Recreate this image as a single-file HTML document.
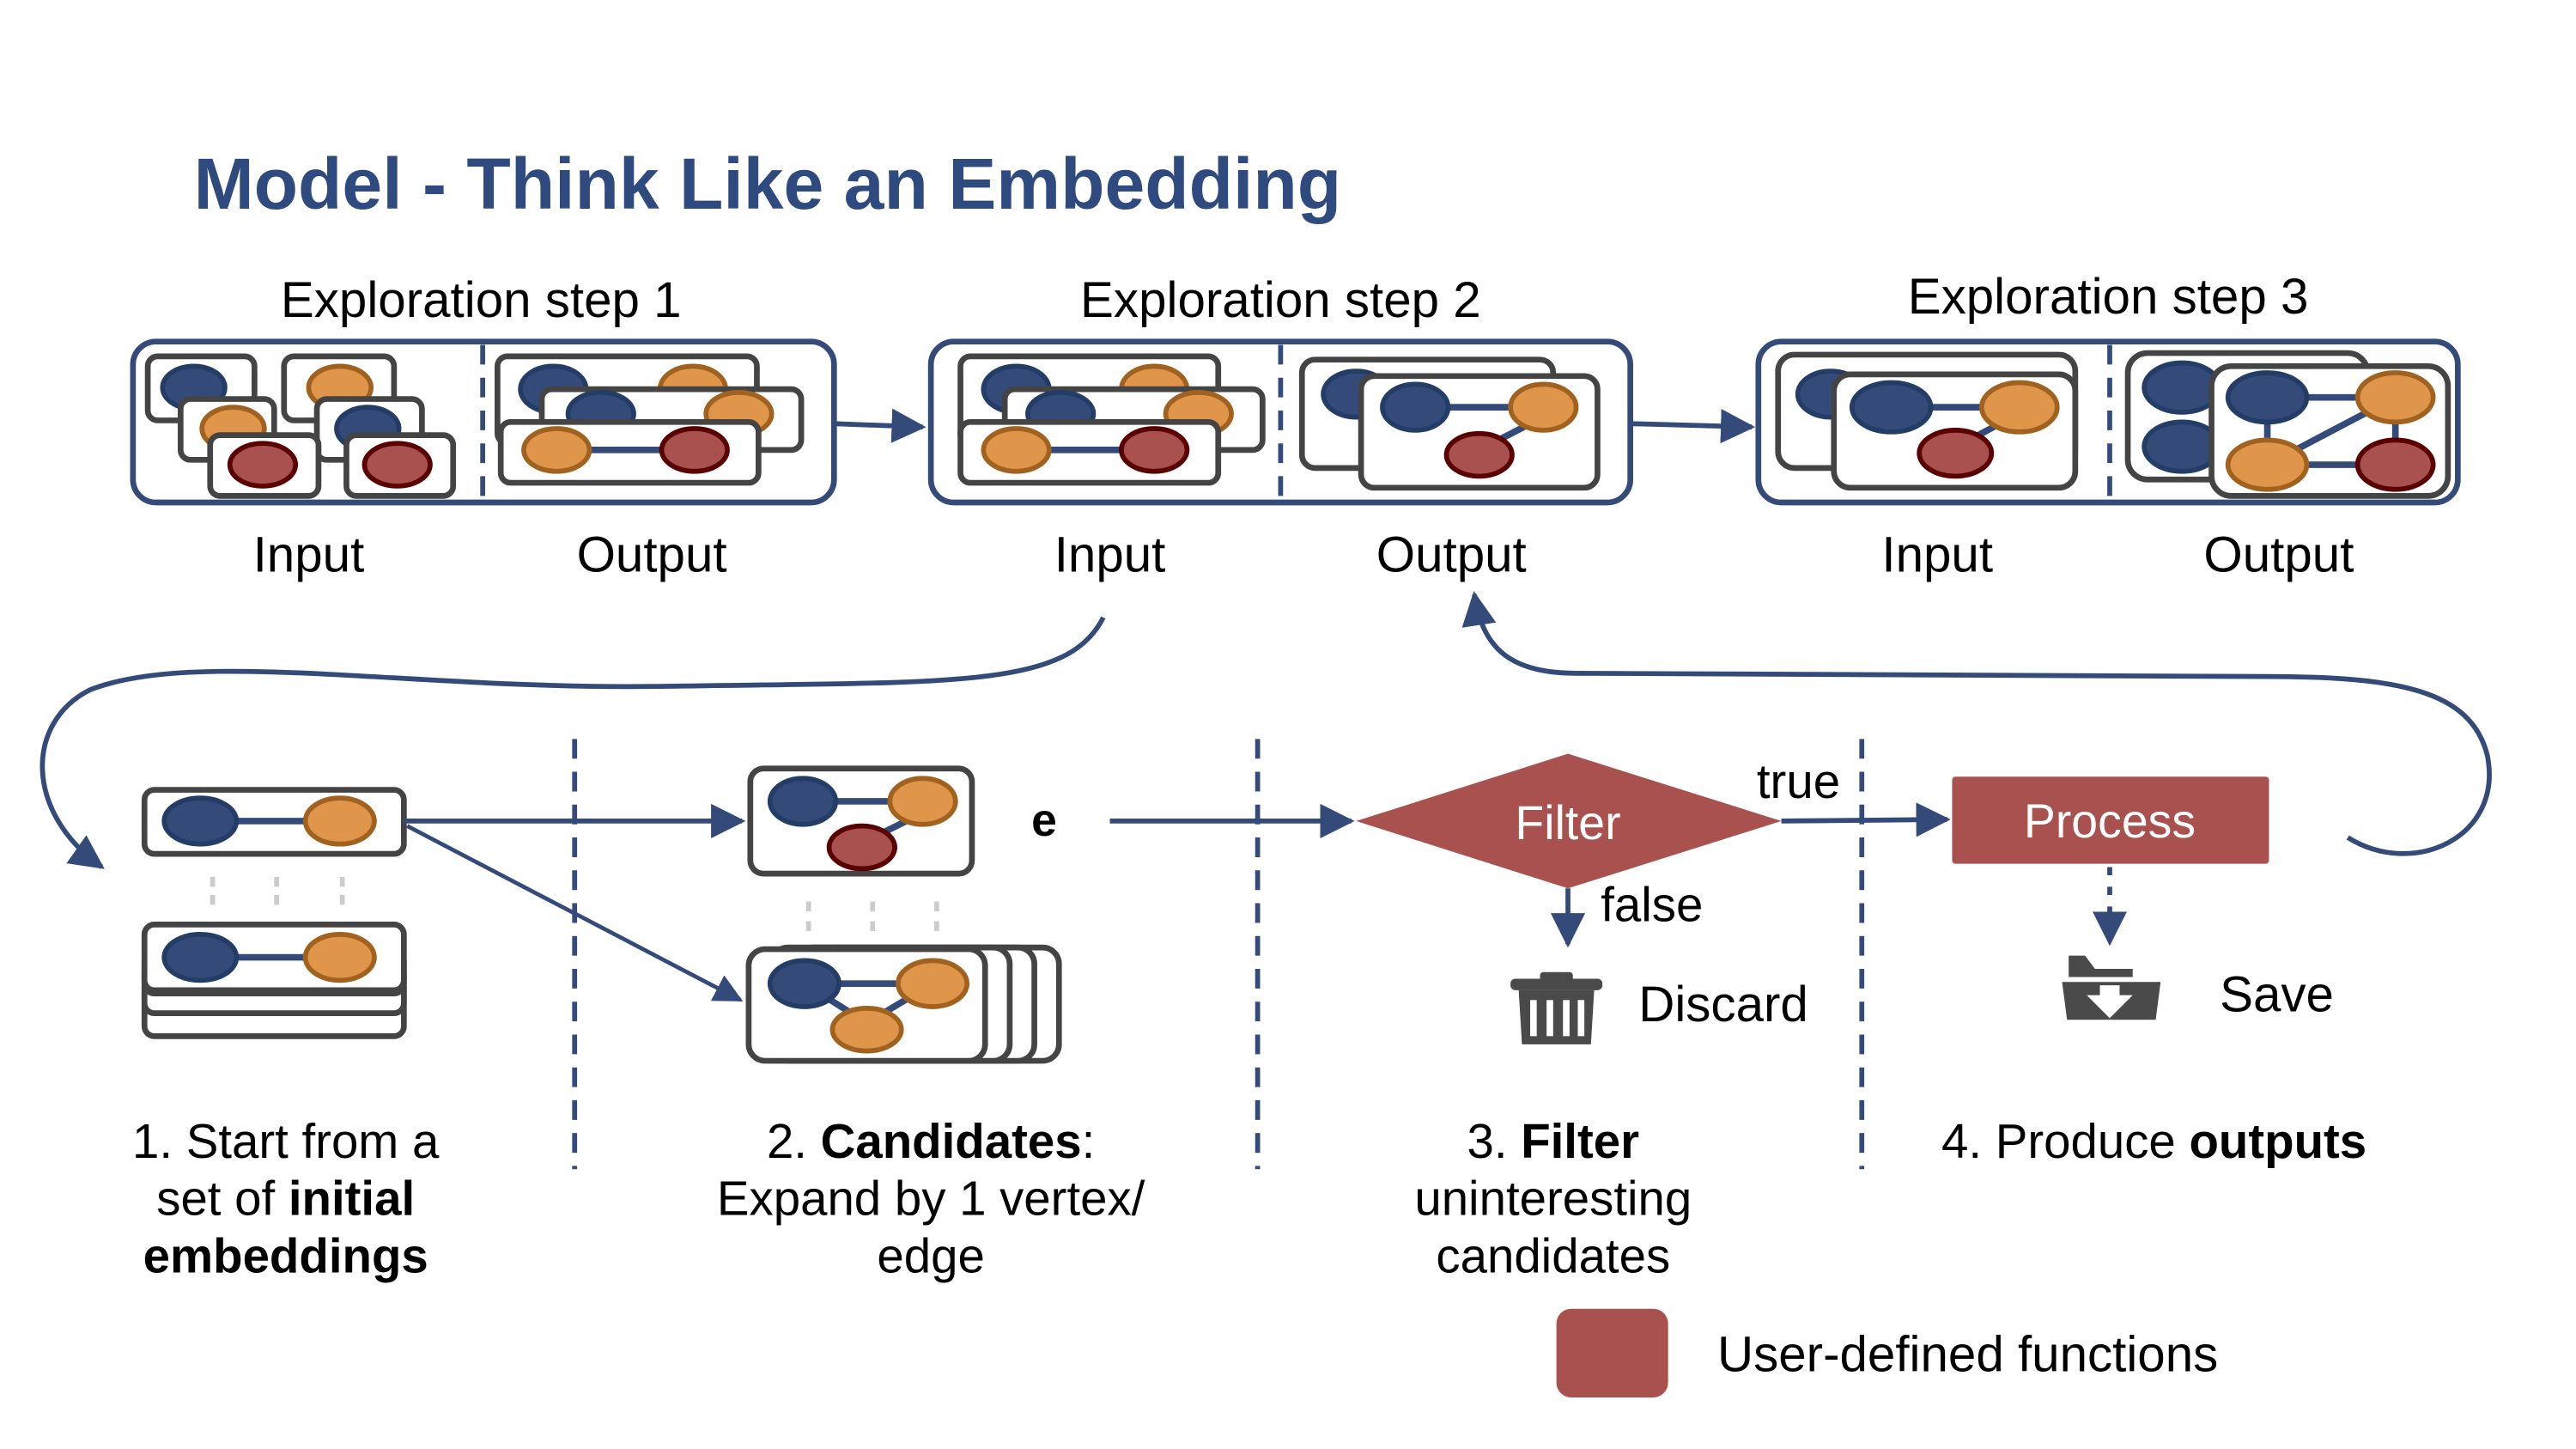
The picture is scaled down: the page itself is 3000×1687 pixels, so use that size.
<!DOCTYPE html>
<html><head><meta charset="utf-8"><style>
html,body{margin:0;padding:0;background:#fff;}
svg{display:block;}
text{font-family:"Liberation Sans",Arial,sans-serif;}
</style></head><body>
<svg width="3000" height="1687" viewBox="0 0 1569 882.4" preserveAspectRatio="none" xmlns="http://www.w3.org/2000/svg">
<defs>
<marker id="ah2" viewBox="0 0 10 10" refX="9" refY="5" markerWidth="7" markerHeight="7" orient="auto" markerUnits="strokeWidth">
<path d="M0,0 L10,5 L0,10 z" fill="#344b7a"/></marker>
</defs>
<style>
.b{fill:#344b7a;stroke:#243d66;stroke-width:3}
.o{fill:#df954a;stroke:#a0621e;stroke-width:3}
.r{fill:#a9514f;stroke:#5a0000;stroke-width:3}
.bx{fill:#fff;stroke:#444;stroke-width:3.5}
.e{stroke:#344b7a;stroke-width:4}
.ob{fill:#fff;stroke:#344b7a;stroke-width:3.5}
.dv{stroke:#344b7a;stroke-width:3;stroke-dasharray:12,8}
.lbl{font-size:30.5px;fill:#000}
</style>

<text x="118" y="127" font-size="44" font-weight="bold" fill="#2e4a7e">Model - Think Like an Embedding</text>

<text x="293" y="193" class="lbl" text-anchor="middle">Exploration step 1</text>
<text x="780" y="193" class="lbl" text-anchor="middle">Exploration step 2</text>
<text x="1284" y="191" class="lbl" text-anchor="middle">Exploration step 3</text>

<!-- Step 1 -->
<rect x="81" y="208" width="427" height="98" rx="14" class="ob"/>
<line x1="294" y1="210" x2="294" y2="304" class="dv"/>
<rect x="90" y="217" width="65" height="39" rx="6" class="bx"/><ellipse cx="118" cy="236" rx="19" ry="13" class="b"/>
<rect x="173" y="217" width="67" height="39" rx="6" class="bx"/><ellipse cx="207" cy="236" rx="19" ry="13" class="o"/>
<rect x="110" y="243" width="57" height="37" rx="6" class="bx"/><ellipse cx="142" cy="261" rx="19" ry="13" class="o"/>
<rect x="193" y="243" width="64" height="37" rx="6" class="bx"/><ellipse cx="224" cy="261" rx="19" ry="13" class="b"/>
<rect x="128" y="265" width="66" height="37" rx="6" class="bx"/><ellipse cx="160" cy="283" rx="20" ry="13" class="r"/>
<rect x="211" y="265" width="65" height="37" rx="6" class="bx"/><ellipse cx="242" cy="283" rx="20" ry="13" class="r"/>

<rect x="303" y="217" width="158" height="53" rx="6" class="bx"/>
<ellipse cx="337" cy="237" rx="20" ry="14" class="b"/><ellipse cx="422" cy="237" rx="20" ry="14" class="o"/>
<rect x="330" y="237" width="158" height="37" rx="6" class="bx"/>
<ellipse cx="366" cy="252" rx="20" ry="13" class="b"/><ellipse cx="450" cy="252" rx="20" ry="13" class="o"/>
<rect x="305" y="257" width="157" height="37" rx="6" class="bx"/>
<line x1="339" y1="274" x2="423" y2="274" class="e"/>
<ellipse cx="339" cy="274" rx="20" ry="13" class="o"/><ellipse cx="423" cy="274" rx="20" ry="13" class="r"/>

<line x1="508" y1="258" x2="562" y2="260" stroke="#344b7a" stroke-width="3" marker-end="url(#ah2)"/>

<!-- Step 2 -->
<rect x="567" y="208" width="426" height="98" rx="14" class="ob"/>
<line x1="780" y1="210" x2="780" y2="304" class="dv"/>
<rect x="585" y="217" width="157" height="53" rx="6" class="bx"/>
<ellipse cx="619" cy="237" rx="20" ry="14" class="b"/><ellipse cx="703" cy="237" rx="20" ry="14" class="o"/>
<rect x="612" y="237" width="157" height="37" rx="6" class="bx"/>
<ellipse cx="646" cy="252" rx="20" ry="13" class="b"/><ellipse cx="730" cy="252" rx="20" ry="13" class="o"/>
<rect x="585" y="257" width="157" height="37" rx="6" class="bx"/>
<line x1="619" y1="274" x2="703" y2="274" class="e"/>
<ellipse cx="619" cy="274" rx="20" ry="13" class="o"/><ellipse cx="703" cy="274" rx="20" ry="13" class="r"/>
<rect x="793" y="219" width="153" height="66" rx="8" class="bx"/>
<ellipse cx="826" cy="240" rx="20" ry="14" class="b"/>
<rect x="829" y="229" width="144" height="68" rx="8" class="bx"/>
<line x1="862" y1="248" x2="940" y2="248" class="e"/><line x1="932" y1="258" x2="905" y2="272" class="e"/>
<ellipse cx="862" cy="248" rx="20" ry="14" class="b"/><ellipse cx="940" cy="248" rx="20" ry="14" class="o"/>
<ellipse cx="901" cy="277" rx="20" ry="13" class="r"/>

<line x1="993" y1="258" x2="1067" y2="260" stroke="#344b7a" stroke-width="3" marker-end="url(#ah2)"/>

<!-- Step 3 -->
<rect x="1071" y="208" width="426" height="98" rx="14" class="ob"/>
<line x1="1285" y1="210" x2="1285" y2="304" class="dv"/>
<rect x="1083" y="216" width="181" height="69" rx="10" class="bx"/>
<ellipse cx="1115" cy="240" rx="20" ry="14" class="b"/>
<rect x="1117" y="228" width="147" height="69" rx="10" class="bx"/>
<line x1="1152" y1="248" x2="1230" y2="248" class="e"/><line x1="1218" y1="258" x2="1192" y2="272" class="e"/>
<ellipse cx="1152" cy="248" rx="24" ry="15" class="b"/><ellipse cx="1230" cy="248" rx="23" ry="15" class="o"/>
<ellipse cx="1191" cy="276" rx="22" ry="14" class="r"/>
<rect x="1296" y="215" width="146" height="77" rx="12" class="bx"/>
<ellipse cx="1329" cy="236" rx="23" ry="15" class="b"/><ellipse cx="1329" cy="272" rx="23" ry="15" class="b"/>
<rect x="1347" y="223" width="144" height="79" rx="12" class="bx"/>
<line x1="1381" y1="242" x2="1459" y2="242" class="e"/><line x1="1381" y1="242" x2="1381" y2="283" class="e"/>
<line x1="1459" y1="242" x2="1381" y2="283" class="e"/><line x1="1459" y1="242" x2="1459" y2="283" class="e"/>
<line x1="1381" y1="283" x2="1459" y2="283" class="e"/>
<ellipse cx="1381" cy="242" rx="24" ry="15" class="b"/><ellipse cx="1459" cy="242" rx="23" ry="15" class="o"/>
<ellipse cx="1381" cy="283" rx="24" ry="15" class="o"/><ellipse cx="1459" cy="283" rx="23" ry="15" class="r"/>

<text x="188" y="348" class="lbl" text-anchor="middle">Input</text>
<text x="397" y="348" class="lbl" text-anchor="middle">Output</text>
<text x="676" y="348" class="lbl" text-anchor="middle">Input</text>
<text x="884" y="348" class="lbl" text-anchor="middle">Output</text>
<text x="1180" y="348" class="lbl" text-anchor="middle">Input</text>
<text x="1388" y="348" class="lbl" text-anchor="middle">Output</text>

<!-- curves -->
<path d="M672,376 C650,420 580,415 400,418 C250,420 120,395 55,420 C15,440 15,495 62,528" fill="none" stroke="#344b7a" stroke-width="3" marker-end="url(#ah2)"/>
<path d="M1430,510 C1470,535 1525,510 1515,460 C1505,420 1460,412 1380,412 L960,410 C920,410 903,395 898,362" fill="none" stroke="#344b7a" stroke-width="3" marker-end="url(#ah2)"/>

<!-- dashed separators -->
<line x1="350" y1="450" x2="350" y2="712" class="dv"/>
<line x1="766" y1="450" x2="766" y2="712" class="dv"/>
<line x1="1134" y1="450" x2="1134" y2="712" class="dv"/>

<!-- start embeddings -->
<rect x="88" y="481" width="158" height="39" rx="6" class="bx"/>
<line x1="122" y1="500" x2="207" y2="500" class="e"/>
<ellipse cx="122" cy="500" rx="22" ry="14" class="b"/><ellipse cx="207" cy="500" rx="21" ry="14" class="o"/>
<g fill="#ccc"><rect x="128" y="534" width="3" height="6"/><rect x="167" y="534" width="3" height="6"/><rect x="207" y="534" width="3" height="6"/>
<rect x="128" y="545" width="3" height="6"/><rect x="167" y="545" width="3" height="6"/><rect x="207" y="545" width="3" height="6"/>
<rect x="491" y="549" width="3" height="6"/><rect x="530" y="549" width="3" height="6"/><rect x="569" y="549" width="3" height="6"/>
<rect x="491" y="561" width="3" height="6"/><rect x="530" y="561" width="3" height="6"/><rect x="569" y="561" width="3" height="6"/></g>
<rect x="88" y="595" width="158" height="36" rx="6" class="bx"/>
<rect x="88" y="587" width="158" height="30" rx="6" class="bx"/>
<rect x="88" y="579" width="158" height="26" rx="6" class="bx"/>
<rect x="88" y="563" width="158" height="40" rx="6" class="bx"/>
<line x1="122" y1="583" x2="207" y2="583" class="e"/>
<ellipse cx="122" cy="583" rx="22" ry="14" class="b"/><ellipse cx="207" cy="583" rx="21" ry="14" class="o"/>

<line x1="246" y1="500" x2="452" y2="500" stroke="#344b7a" stroke-width="3" marker-end="url(#ah2)"/>
<line x1="248" y1="503" x2="451" y2="609" stroke="#344b7a" stroke-width="2.5" marker-end="url(#ah2)"/>

<!-- candidates -->
<rect x="457" y="468" width="135" height="64" rx="8" class="bx"/>
<line x1="489" y1="488" x2="562" y2="488" class="e"/><line x1="556" y1="498" x2="528" y2="512" class="e"/>
<ellipse cx="489" cy="488" rx="20" ry="14" class="b"/><ellipse cx="562" cy="488" rx="20" ry="14" class="o"/>
<ellipse cx="525" cy="516" rx="20" ry="13" class="r"/>
<text x="636" y="509" font-size="28" font-weight="bold" text-anchor="middle" font-family="Liberation Mono,monospace">e</text>

<rect x="500" y="577" width="145" height="69" rx="10" class="bx"/>
<rect x="485" y="577" width="145" height="69" rx="10" class="bx"/>
<rect x="470" y="577" width="145" height="69" rx="10" class="bx"/>
<rect x="456" y="578" width="144" height="68" rx="10" class="bx"/>
<line x1="490" y1="599" x2="568" y2="599" class="e"/><line x1="490" y1="599" x2="528" y2="623" class="e"/><line x1="568" y1="599" x2="528" y2="623" class="e"/>
<ellipse cx="490" cy="599" rx="21" ry="14" class="b"/><ellipse cx="568" cy="599" rx="21" ry="14" class="o"/>
<ellipse cx="528" cy="627" rx="21" ry="13" class="o"/>

<line x1="676" y1="500" x2="823" y2="500" stroke="#344b7a" stroke-width="3" marker-end="url(#ah2)"/>

<!-- filter -->
<polygon points="826,500 955,459 1085,500 955,541" fill="#a9514f"/>
<text x="955" y="511" font-size="29" fill="#fff" text-anchor="middle">Filter</text>
<line x1="1085" y1="500" x2="1186" y2="499" stroke="#344b7a" stroke-width="3" marker-end="url(#ah2)"/>
<text x="1070" y="486" font-size="29.5">true</text>
<line x1="955" y1="541" x2="955" y2="575" stroke="#344b7a" stroke-width="3" marker-end="url(#ah2)"/>
<text x="975" y="561" font-size="29.5">false</text>
<!-- trash -->
<g fill="#4a4a4a">
<rect x="920" y="596" width="56" height="7" rx="3"/><rect x="938" y="592" width="20" height="6" rx="2"/>
<path d="M925,603 h46 l-2,33 h-42 z"/>
</g>
<g fill="#fff"><rect x="932" y="609" width="4" height="22"/><rect x="942" y="609" width="4" height="22"/><rect x="952" y="609" width="4" height="22"/><rect x="961" y="609" width="4" height="22"/></g>
<text x="998" y="622" font-size="30.5">Discard</text>

<!-- process -->
<rect x="1189" y="473" width="193" height="53" rx="2" fill="#a9514f"/>
<text x="1285" y="510" font-size="29" fill="#fff" text-anchor="middle">Process</text>
<line x1="1285" y1="528" x2="1285" y2="574" stroke="#344b7a" stroke-width="3" stroke-dasharray="5,7" marker-end="url(#ah2)"/>
<g fill="#4a4a4a">
<path d="M1260,582 h10 l6,8 h23 v5 h-39 z"/>
<path d="M1256,598 h60 l-3,23 h-54 z"/>
</g>
<path d="M1279,600 h12 v6 h8 l-14,14 l-14,-14 h8 z" fill="#fff"/>
<text x="1352" y="616" font-size="30.5">Save</text>

<!-- captions -->
<g font-size="29.5" text-anchor="middle">
<text x="174" y="705">1. Start from a</text>
<text x="174" y="740">set of <tspan font-weight="bold">initial</tspan></text>
<text x="174" y="775" font-weight="bold">embeddings</text>
<text x="567" y="705">2. <tspan font-weight="bold">Candidates</tspan>:</text>
<text x="567" y="740">Expand by 1 vertex/</text>
<text x="567" y="775">edge</text>
<text x="946" y="705">3. <tspan font-weight="bold">Filter</tspan></text>
<text x="946" y="740">uninteresting</text>
<text x="946" y="775">candidates</text>
<text x="1312" y="705">4. Produce <tspan font-weight="bold">outputs</tspan></text>
</g>

<rect x="948" y="797" width="68" height="54" rx="9" fill="#a9514f"/>
<text x="1046" y="835" font-size="30.5">User-defined functions</text>
</svg>
</body></html>
